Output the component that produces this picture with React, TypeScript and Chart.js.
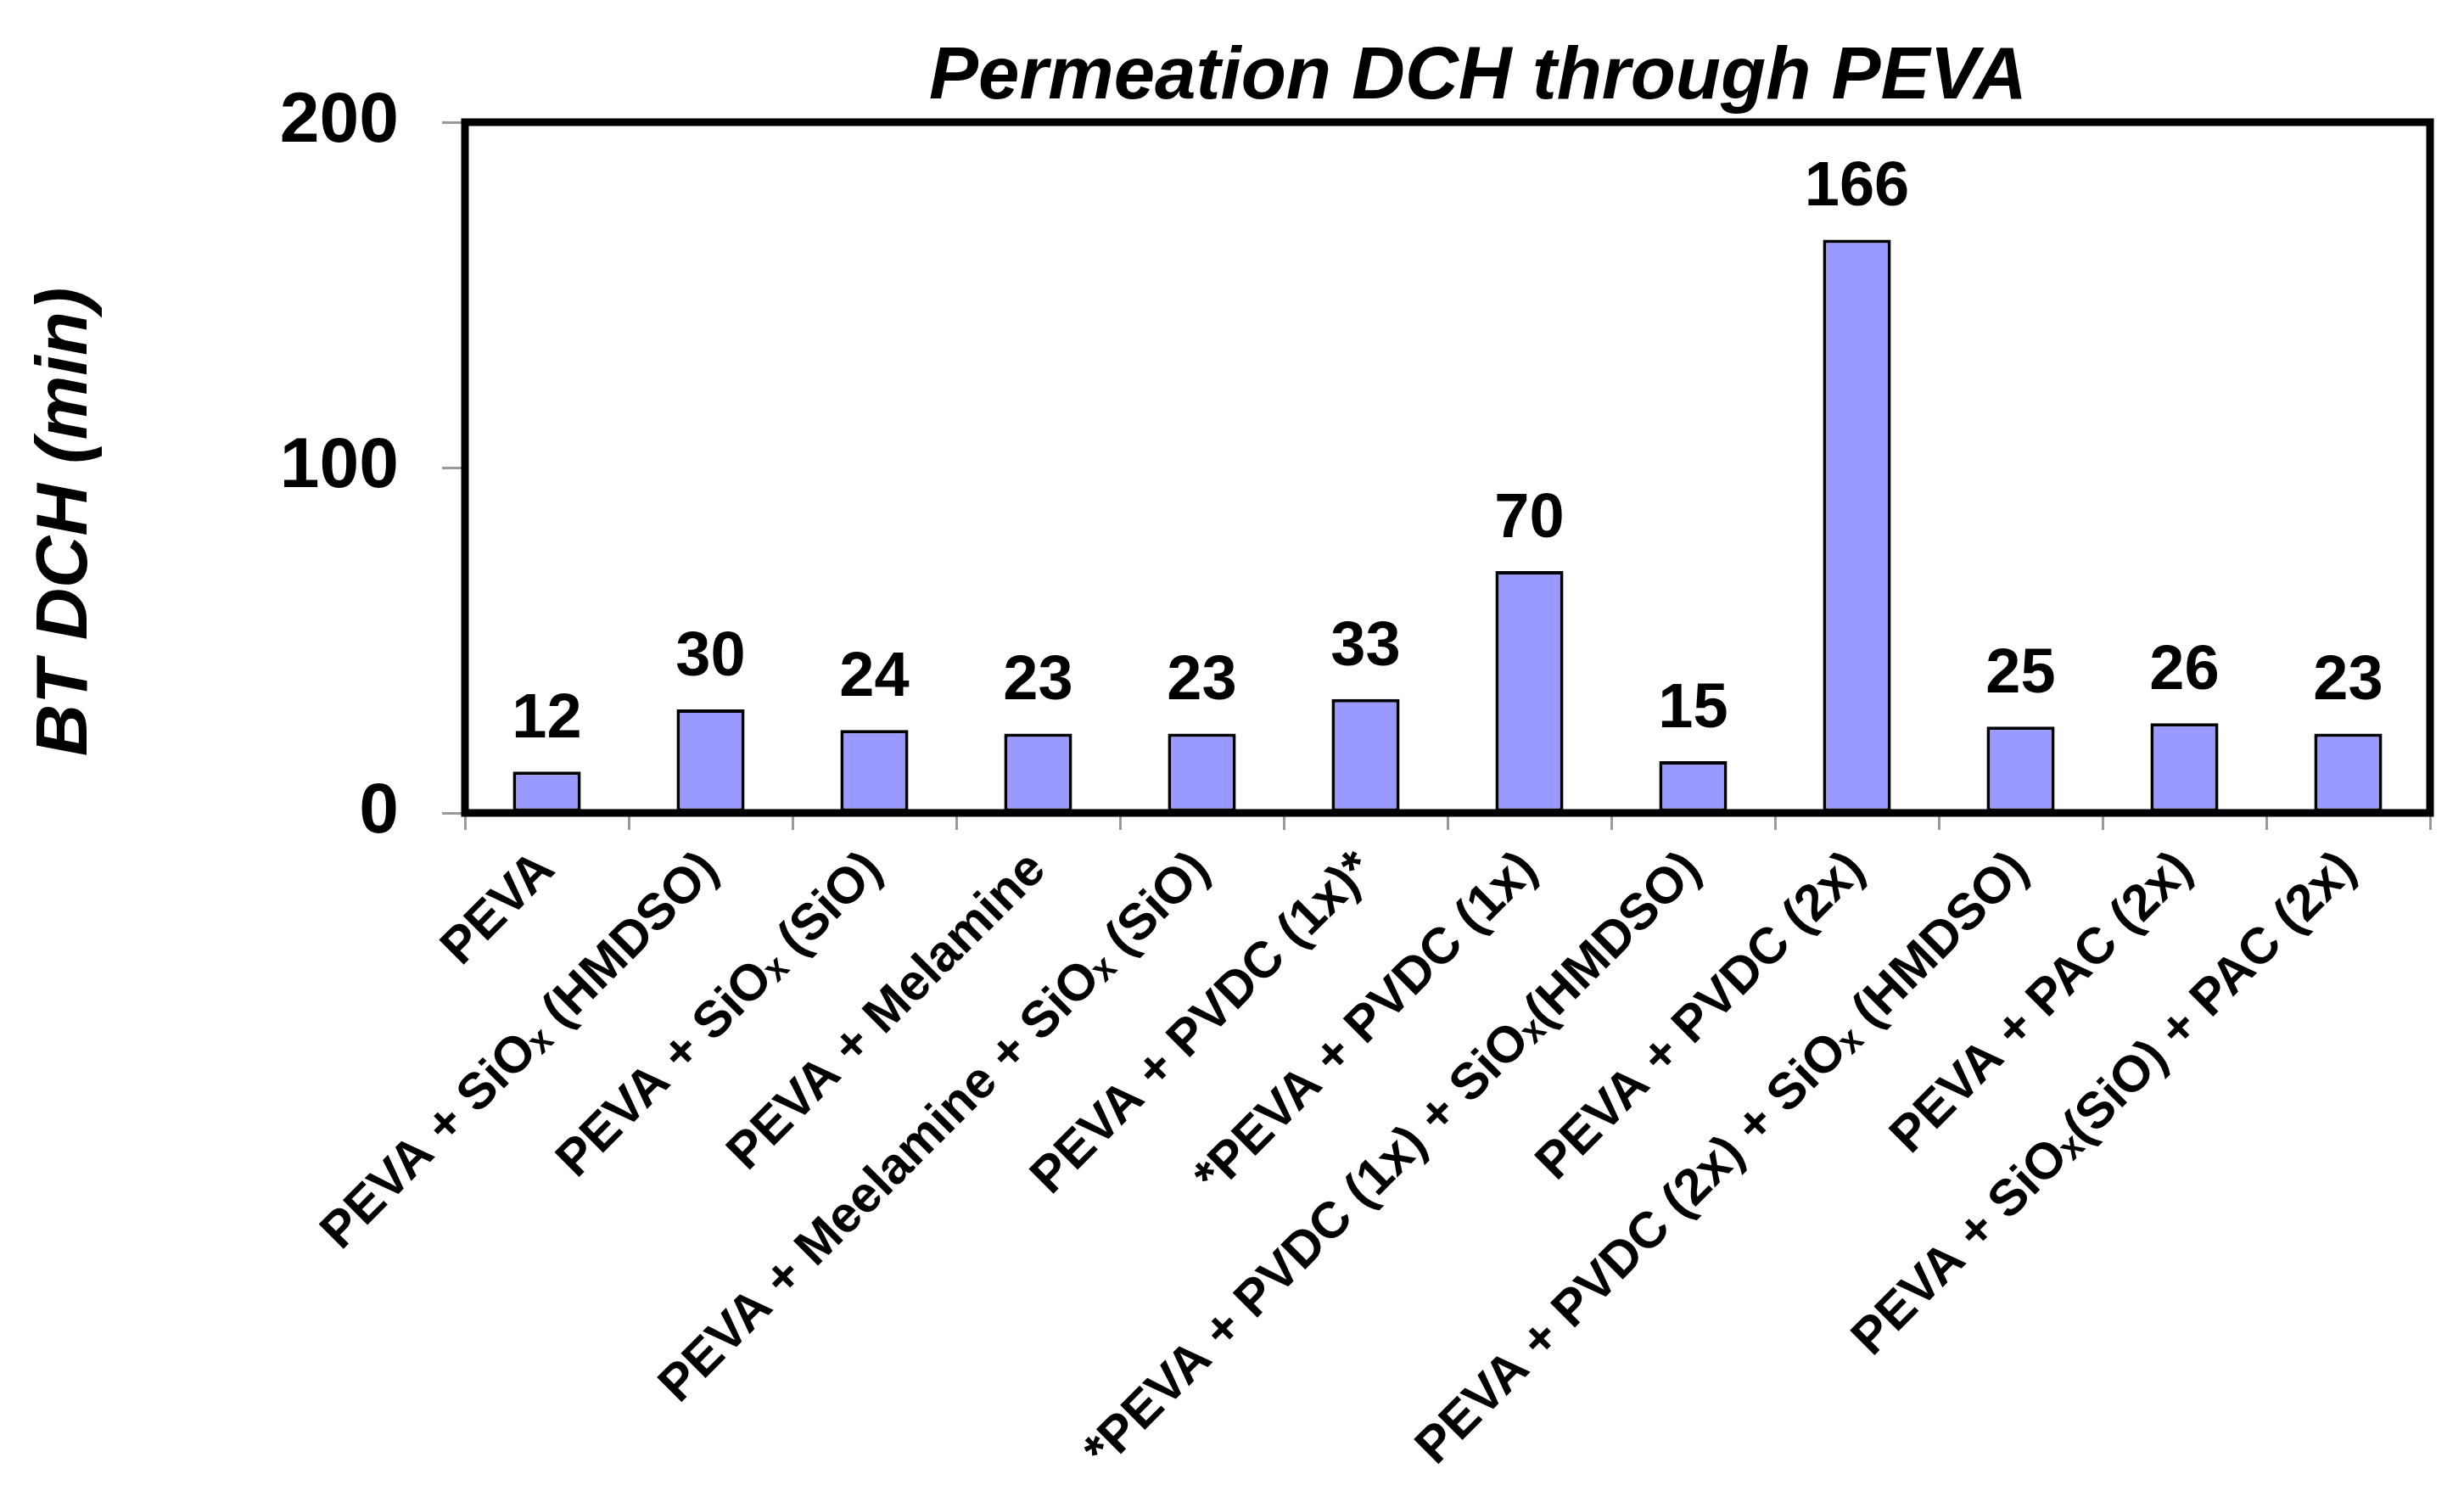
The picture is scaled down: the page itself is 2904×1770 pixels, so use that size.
import React, { useEffect, useRef } from "react";
import { Chart, registerables } from "chart.js";

Chart.register(...registerables);

const TITLE = "Permeation DCH through PEVA";
const Y_TITLE = "BT DCH (min)";

const categories: string[] = [
  "PEVA",
  "PEVA + SiOₓ (HMDSO)",
  "PEVA + SiOₓ (SiO)",
  "PEVA + Melamine",
  "PEVA + Meelamine + SiOₓ (SiO)",
  "PEVA + PVDC (1x)*",
  "*PEVA + PVDC (1x)",
  "*PEVA + PVDC (1x) + SiOₓ(HMDSO)",
  "PEVA + PVDC (2x)",
  "PEVA + PVDC (2x) + SiOₓ (HMDSO)",
  "PEVA + PAC (2x)",
  "PEVA + SiOₓ(SiO) + PAC (2x)",
];

const btValues: number[] = [12, 30, 24, 23, 23, 33, 70, 15, 166, 25, 26, 23];

const yTicks: number[] = [0, 100, 200];

const FONT = '"Liberation Sans", Arial, Helvetica, sans-serif';

const W = 2904;
const H = 1770;

export default function App() {
  const ref = useRef<HTMLCanvasElement | null>(null);

  useEffect(() => {
    if (!ref.current) return;

    const decorPlugin = {
      id: "decor",
      afterDatasetsDraw(chart: any) {
        const { ctx, chartArea } = chart;
        ctx.save();
        // frame
        ctx.strokeStyle = "#000";
        ctx.lineWidth = 9;
        ctx.strokeRect(
          chartArea.left,
          chartArea.top,
          chartArea.right - chartArea.left,
          chartArea.bottom - chartArea.top
        );
        // value labels
        const meta = chart.getDatasetMeta(0);
        ctx.fillStyle = "#000";
        ctx.font = `bold 74px ${FONT}`;
        ctx.textAlign = "center";
        ctx.textBaseline = "alphabetic";
        meta.data.forEach((bar: any, i: number) => {
          ctx.fillText(String(btValues[i]), bar.x, bar.y - 40);
        });
        ctx.restore();
      },
      afterDraw(chart: any) {
        const { ctx } = chart;
        ctx.save();
        ctx.fillStyle = "#000";
        ctx.font = `italic bold 87px ${FONT}`;
        ctx.textAlign = "center";
        ctx.textBaseline = "alphabetic";
        ctx.fillText(TITLE, 1742, 116);
        ctx.font = `italic bold 85px ${FONT}`;
        ctx.translate(102, 615);
        ctx.rotate(-Math.PI / 2);
        ctx.fillText(Y_TITLE, 0, 0);
        ctx.restore();
      },
    };

    const chart = new Chart(ref.current, {
      type: "bar",
      data: {
        labels: categories,
        datasets: [
          {
            data: btValues,
            backgroundColor: "#9999FF",
            borderColor: "#000000",
            borderWidth: 4,
            borderSkipped: false,
            barPercentage: 0.415,
            categoryPercentage: 1,
          },
        ],
      },
      options: {
        animation: false,
        responsive: false,
        devicePixelRatio: 1,
        layout: { padding: { top: 144, right: 40, left: 0, bottom: 0 } },
        plugins: {
          legend: { display: false },
          title: { display: false },
          tooltip: { enabled: false },
        },
        scales: {
          x: {
            type: "category",
            offset: true,
            grid: {
              display: true,
              offset: true,
              drawOnChartArea: false,
              drawTicks: true,
              tickLength: 20,
              color: "#999999",
              lineWidth: 3,
            },
            border: { display: false },
            ticks: {
              autoSkip: false,
              maxRotation: 45,
              minRotation: 45,
              padding: 12,
              color: "#000",
              font: { family: FONT, weight: "bold", size: 60 },
            },
            afterFit(scale: any) {
              scale.height = H - 958;
            },
          },
          y: {
            min: 0,
            max: 200,
            afterBuildTicks(scale: any) {
              scale.ticks = yTicks.map((v) => ({ value: v }));
            },
            grid: {
              display: true,
              drawOnChartArea: false,
              drawTicks: true,
              tickLength: 27,
              color: "#999999",
              lineWidth: 3,
            },
            border: { display: false },
            ticks: {
              padding: 51,
              color: "#000",
              font: { family: FONT, weight: "bold", size: 84 },
            },
            afterFit(scale: any) {
              scale.width = 548;
            },
          },
        },
      },
      plugins: [decorPlugin],
    });

    return () => chart.destroy();
  }, []);

  return (
    <div style={{ position: "fixed", left: 0, top: 0, width: W, height: H, background: "#fff" }}>
      <canvas ref={ref} width={W} height={H} style={{ width: W, height: H, display: "block" }} />
    </div>
  );
}
